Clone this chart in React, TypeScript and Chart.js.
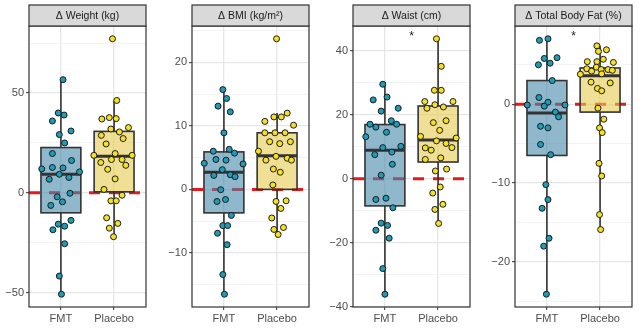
import React, { useEffect, useRef } from "react";
import { Chart, registerables } from "chart.js";

Chart.register(...registerables);
Chart.defaults.font.family = "'Liberation Sans', Arial, Helvetica, sans-serif";

// ---------- data ----------
const categories = ["FMT", "Placebo"];
const panelTitles = ["Δ Weight (kg)", "Δ BMI (kg/m²)", "Δ Waist (cm)", "Δ Total Body Fat (%)"];
const tickSteps = [50, 10, 20, 10];

// significance marks (label, y value) per panel
const sigLabels = ["", "", "*", "*"];
const sigValues = [0, 0, 45.3, 9.0];

// Weight
const weightFmt = [56.7, 40, 39, 36, 31, 29.2, 25, 19.7, 16.2, 12, 12.7, 12.5, 10.5, 9.3, 6.8, 7.7, -0.2, -2, -4.5, -6.3, -13.8, -15.7, -16.7, -18.5, -25.5, -41.7, -50.8];
const weightFmtJitter = [0.04, -0.05, 0.06, -0.16, 0.19, -0.03, 0.07, -0.16, 0.2, -0.36, -0.16, 0.04, 0.35, -0.03, -0.22, 0.15, 0.17, -0.07, 0.03, -0.19, 0.19, -0.05, 0.07, -0.15, 0.07, -0.03, 0.01];
const weightPlacebo = [77.2, 46.3, 37, 37.7, 37.2, 32.7, 32, 30.5, 28.8, 27.2, 24.5, 18.8, 18.8, 19.7, 16.7, 16.7, 15.2, 13.8, 11.8, 7, 1.7, -1.2, -4, -4, -12.5, -15.3, -17.7, -22];
const weightPlaceboJitter = [-0.03, 0.05, -0.23, -0.09, 0.04, 0.27, -0.06, 0.1, -0.24, 0.17, -0.15, -0.38, 0.34, 0.02, -0.05, 0.15, -0.25, 0.22, -0.12, 0.02, -0.19, 0.15, -0.06, 0.04, -0.14, 0.07, -0.09, -0.01];
// [lower whisker, Q1, median, Q3, upper whisker]
const weightFmtBox = [-50.8, -10, 9.3, 22.7, 56.7];
const weightPlaceboBox = [-22, 0.5, 18.3, 30.8, 46.3];

// BMI
const bmiFmt = [15.7, 14.3, 13.1, 12.2, 8.9, 6.3, 6.0, 5.7, 4.7, 4.6, 4.1, 4.0, 3.1, 2.2, 2.3, 2.0, -0.05, -1.9, -1.6, -4.1, -5.7, -5.7, -6.9, -8.7, -13.4, -16.5];
const bmiFmtJitter = [-0.02, 0.05, -0.11, 0.12, 0, 0.1, -0.2, 0.2, -0.15, 0.04, -0.37, 0.36, -0.03, -0.19, 0.12, 0.21, -0.06, -0.13, 0.03, 0.14, -0.02, 0.07, -0.12, 0.06, -0.02, 0.01];
const bmiPlacebo = [23.7, 12.0, 10.7, 11.4, 11.4, 10.1, 8.9, 8.9, 8.9, 7.5, 7.2, 7.5, 6.0, 5.2, 4.9, 4.6, 4.6, 3.2, 2.7, 0.7, -1.9, -1.8, -3.0, -4.5, -6.3, -6.0, -7.1];
const bmiPlaceboJitter = [-0.01, 0.19, -0.23, -0.06, 0.08, 0.31, -0.23, -0.04, 0.15, -0.14, 0.05, 0.25, -0.35, -0.02, 0.19, -0.21, 0.27, -0.07, 0.06, -0.08, -0.02, 0.17, 0.07, -0.1, -0.06, 0.12, 0.02];
const bmiFmtBox = [-16.5, -3.7, 2.7, 5.9, 15.7];
const bmiPlaceboBox = [-7.1, 0, 5.3, 8.9, 12.0];

// Waist
const waistFmt = [29.5, 25.5, 24.6, 21.1, 22.0, 18.1, 17.0, 17.0, 16.1, 14.5, 13.1, 9.7, 10.1, 8.3, 7.5, 4.5, 1.1, -6.5, -6.1, -9.1, -13.9, -14.6, -16.1, -18.6, -28.1, -36.1];
const waistFmtJitter = [-0.04, 0.04, -0.22, -0.07, 0.25, 0.12, -0.28, 0.22, -0.17, 0.03, -0.36, -0.04, 0.3, 0.13, -0.19, 0.14, -0.07, -0.17, 0.02, 0.15, -0.07, 0.05, -0.17, 0.08, -0.04, 0];
const waistPlacebo = [43.7, 35.1, 27.6, 27.6, 24.1, 24.1, 23.1, 22.4, 22.0, 17.5, 18.1, 15.1, 13.2, 11.8, 12.7, 9.6, 8.9, 11.0, 9.7, 6.0, 6.5, 2.4, 3.0, -2.6, -4.5, -9.6, -8.0, -14.0];
const waistPlaceboJitter = [-0.03, 0.06, -0.07, 0.06, -0.25, 0.28, -0.06, 0.1, -0.21, -0.09, 0.15, 0.03, -0.33, -0.03, 0.34, -0.24, -0.13, 0.15, 0.26, -0.24, 0.05, -0.05, 0.16, 0.04, -0.1, -0.06, 0.09, 0.01];
const waistFmtBox = [-36.1, -8.5, 8.9, 16.9, 29.5];
const waistPlaceboBox = [-14, 5.2, 12.1, 22.7, 43.7];

// Total body fat
const fatFmt = [8.1, 8.3, 5.8, 5.9, 5.0, 5.2, 3.0, 0.85, 0.25, -0.1, -0.25, -0.1, -1.0, -1.6, -2.8, -3.0, -5.1, -6.4, -10.2, -12.1, -13.2, -17.0, -18.0, -24.1];
const fatFmtJitter = [-0.14, 0.02, -0.05, 0.19, -0.16, 0.06, 0.1, -0.15, 0.02, -0.37, -0.05, 0.34, 0.16, 0.22, -0.12, 0.02, -0.12, 0.07, -0.02, 0.02, -0.09, 0.04, -0.06, -0.01];
const fatPlacebo = [7.4, 6.9, 6.7, 5.7, 5.4, 5.4, 5.3, 4.7, 4.5, 4.2, 4.4, 4.4, 4.3, 3.8, 3.85, 2.8, 2.7, 2.0, 1.7, -0.5, -1.9, -3.0, -3.6, -7.5, -9.1, -14.0, -15.9];
const fatPlaceboJitter = [-0.06, 0.12, -0.03, 0.06, -0.06, -0.24, 0.25, -0.07, -0.25, -0.16, 0.02, 0.15, 0.23, -0.37, 0.03, -0.17, 0.19, -0.05, 0.03, -0.04, 0.07, -0.01, 0.04, -0.02, 0.03, -0.01, 0.01];
const fatFmtBox = [-24.1, -6.5, -1.1, 3.0, 8.3];
const fatPlaceboBox = [-15.9, -1.0, 3.6, 4.6, 7.4];

const panelValues = [
  [weightFmt, weightPlacebo],
  [bmiFmt, bmiPlacebo],
  [waistFmt, waistPlacebo],
  [fatFmt, fatPlacebo],
];
const panelJitter = [
  [weightFmtJitter, weightPlaceboJitter],
  [bmiFmtJitter, bmiPlaceboJitter],
  [waistFmtJitter, waistPlaceboJitter],
  [fatFmtJitter, fatPlaceboJitter],
];
const panelBoxes = [
  [weightFmtBox, weightPlaceboBox],
  [bmiFmtBox, bmiPlaceboBox],
  [waistFmtBox, waistPlaceboBox],
  [fatFmtBox, fatPlaceboBox],
];

// ---------- style / layout ----------
const PANEL_LEFTS = [29, 192, 353, 515];
const PANEL_W = 120;
const AXIS_W = 29;
const RIGHT_PAD = 2;
const STRIP_TOP = 5;
const PLOT_TOP = 26;
const X_AXIS_H = 22;
const H = 329;

const pointColors = ["#1E9BB6", "#F7E11F"];
const boxFills = ["rgba(68,136,170,0.6)", "rgba(230,203,80,0.6)"];
const DARK = "#333333";

const fmtTick = (v: number) => (v < 0 ? "\u2212" + Math.abs(v) : String(v));

function makePlugin(i: number) {
  return {
    id: "panelDeco" + i,
    beforeDatasetsDraw(chart: any) {
      const { ctx, chartArea: a, scales } = chart;
      const x = scales.x, y = scales.y;
      ctx.save();
      ctx.beginPath();
      ctx.rect(a.left, a.top, a.right - a.left, a.bottom - a.top);
      ctx.clip();
      // zero reference line
      const y0 = y.getPixelForValue(0);
      ctx.strokeStyle = "#E41A1C";
      ctx.lineWidth = 3;
      ctx.setLineDash([11, 9]);
      ctx.beginPath();
      ctx.moveTo(a.left, y0);
      ctx.lineTo(a.right, y0);
      ctx.stroke();
      ctx.setLineDash([]);
      // boxplots
      panelBoxes[i].forEach((b, k) => {
        const cx = x.getPixelForValue(k + 1);
        const half = x.getPixelForValue(k + 1 + 0.375) - cx;
        const [lw, q1, med, q3, hw] = b.map((v) => y.getPixelForValue(v));
        ctx.strokeStyle = DARK;
        ctx.lineWidth = 1.6;
        ctx.beginPath();
        ctx.moveTo(cx, q3);
        ctx.lineTo(cx, hw);
        ctx.moveTo(cx, q1);
        ctx.lineTo(cx, lw);
        ctx.stroke();
        ctx.fillStyle = boxFills[k];
        ctx.fillRect(cx - half, q3, 2 * half, q1 - q3);
        ctx.strokeRect(cx - half, q3, 2 * half, q1 - q3);
        ctx.lineWidth = 3;
        ctx.beginPath();
        ctx.moveTo(cx - half, med);
        ctx.lineTo(cx + half, med);
        ctx.stroke();
      });
      ctx.restore();
    },
    afterDatasetsDraw(chart: any) {
      const { ctx, chartArea: a, scales } = chart;
      const x = scales.x, y = scales.y;
      ctx.save();
      // significance mark
      if (sigLabels[i]) {
        ctx.fillStyle = "#1A1A1A";
        ctx.font = "12px 'Liberation Sans', Arial, sans-serif";
        ctx.textAlign = "center";
        ctx.textBaseline = "middle";
        ctx.fillText(sigLabels[i], x.getPixelForValue(1.5), y.getPixelForValue(sigValues[i]) + 3);
      }
      // panel border
      ctx.strokeStyle = DARK;
      ctx.lineWidth = 1.2;
      ctx.strokeRect(a.left, a.top, a.right - a.left, a.bottom - a.top);
      // strip
      ctx.fillStyle = "#D9D9D9";
      ctx.fillRect(a.left, STRIP_TOP, a.right - a.left, a.top - STRIP_TOP);
      ctx.strokeRect(a.left, STRIP_TOP, a.right - a.left, a.top - STRIP_TOP);
      ctx.fillStyle = "#1A1A1A";
      ctx.font = "10.5px 'Liberation Sans', Arial, sans-serif";
      ctx.textAlign = "center";
      ctx.textBaseline = "middle";
      ctx.fillText(panelTitles[i], (a.left + a.right) / 2, (STRIP_TOP + a.top) / 2 + 0.5);
      ctx.restore();
    },
  };
}

function buildConfig(i: number): any {
  const [fmt, pla] = panelValues[i];
  const [fj, pj] = panelJitter[i];
  const all = [...fmt, ...pla];
  const lo = Math.min(...all), hi = Math.max(...all);
  const pad = (hi - lo) * 0.05;
  const step = tickSteps[i];
  const isMajor = (v: number) => Math.abs(v / step - Math.round(v / step)) < 1e-6;
  return {
    type: "scatter",
    data: {
      datasets: [
        {
          data: fmt.map((v, k) => ({ x: 1 + fj[k], y: v })),
          backgroundColor: pointColors[0],
          borderColor: "#1A1A1A",
          borderWidth: 1,
          pointRadius: 3,
        },
        {
          data: pla.map((v, k) => ({ x: 2 + pj[k], y: v })),
          backgroundColor: pointColors[1],
          borderColor: "#1A1A1A",
          borderWidth: 1,
          pointRadius: 3,
        },
      ],
    },
    options: {
      animation: false,
      responsive: false,
      events: [],
      layout: { padding: { top: PLOT_TOP, right: RIGHT_PAD, left: 0, bottom: 0 } },
      plugins: { legend: { display: false }, tooltip: { enabled: false } },
      scales: {
        x: {
          type: "linear",
          min: 0.4,
          max: 2.6,
          afterBuildTicks: (s: any) => {
            s.ticks = categories.map((_, k) => ({ value: k + 1 }));
          },
          afterFit: (s: any) => {
            s.height = X_AXIS_H;
          },
          border: { display: false },
          grid: { color: "#E6E6E6", lineWidth: 1.3, tickLength: 3, tickColor: DARK, tickWidth: 1 },
          ticks: {
            autoSkip: false,
            maxRotation: 0,
            padding: 2,
            color: "#4D4D4D",
            font: { size: 11 },
            callback: (v: number) => categories[Math.round(v) - 1] ?? "",
          },
        },
        y: {
          type: "linear",
          min: lo - pad,
          max: hi + pad,
          afterBuildTicks: (s: any) => {
            const half = step / 2;
            const t: any[] = [];
            for (let k = Math.ceil(s.min / half); k <= Math.floor(s.max / half); k++) t.push({ value: k * half });
            s.ticks = t;
          },
          afterFit: (s: any) => {
            s.width = AXIS_W;
          },
          border: { display: false },
          grid: {
            color: (c: any) => (isMajor(c.tick.value) ? "#E6E6E6" : "#F0F0F0"),
            lineWidth: (c: any) => (isMajor(c.tick.value) ? 1.3 : 0.8),
            tickColor: (c: any) => (isMajor(c.tick.value) ? DARK : "rgba(0,0,0,0)"),
            tickLength: 3,
            tickWidth: 1,
          },
          ticks: {
            autoSkip: false,
            padding: 2,
            color: "#4D4D4D",
            font: { size: 11 },
            callback: (v: number) => (isMajor(v) ? fmtTick(Math.round(v)) : ""),
          },
        },
      },
    },
    plugins: [makePlugin(i)],
  };
}

function Panel({ i }: { i: number }) {
  const ref = useRef<HTMLCanvasElement | null>(null);
  const w = AXIS_W + PANEL_W + RIGHT_PAD;
  useEffect(() => {
    const chart = new Chart(ref.current as HTMLCanvasElement, buildConfig(i));
    return () => chart.destroy();
  }, [i]);
  return (
    <canvas
      ref={ref}
      width={w}
      height={H}
      style={{ position: "absolute", left: PANEL_LEFTS[i] - AXIS_W, top: 0, width: w, height: H }}
    />
  );
}

export default function App() {
  return (
    <div style={{ position: "absolute", left: 0, top: 0, width: 642, height: H, background: "#FFFFFF", overflow: "hidden" }}>
      {panelTitles.map((_, i) => (
        <Panel key={i} i={i} />
      ))}
    </div>
  );
}
